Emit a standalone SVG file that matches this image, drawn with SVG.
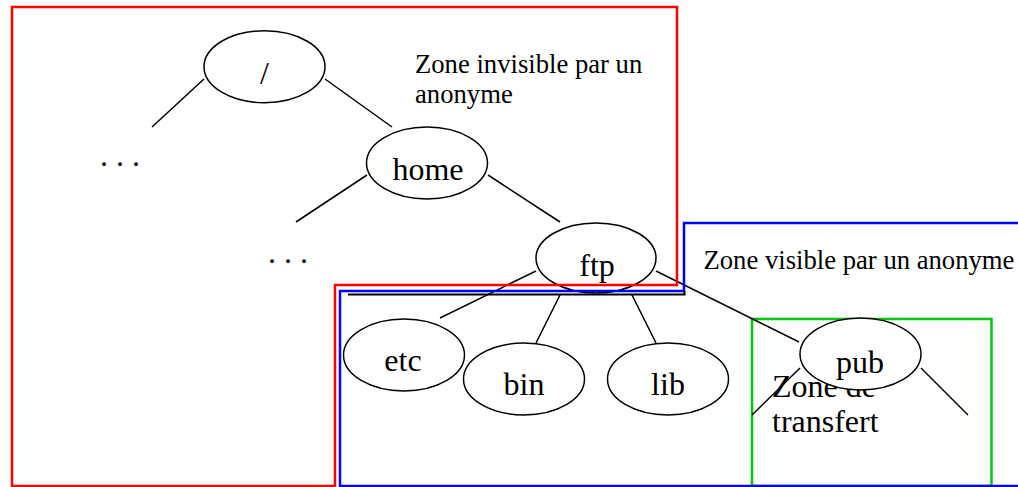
<svg xmlns="http://www.w3.org/2000/svg" width="1018" height="487" viewBox="0 0 1018 487">
<style>
.node ellipse{fill:#fff;stroke:#000;stroke-width:1.5}
.lbl{font-family:"Liberation Serif","Times New Roman",serif;font-size:32px;fill:#000;text-anchor:middle}
.zt{font-family:"Liberation Serif","Times New Roman",serif;font-size:26.67px;fill:#000}
.zt2{font-family:"Liberation Serif","Times New Roman",serif;font-size:32px;fill:#000}
#connectors line{stroke:#000;stroke-width:1.5}
.zone{fill:none;stroke-width:2.5}
</style>
<rect width="1018" height="487" fill="#fff"/>
<g id="zone-transfert">
<rect class="zone" x="752" y="319" width="239.5" height="167" stroke="#00c800"/>
<text class="zt2" x="772" y="397">Zone de</text>
<text class="zt2" x="772" y="432">transfert</text>
</g>
<g id="zone-labels">
<text class="zt" x="415" y="73">Zone invisible par un</text>
<text class="zt" x="415" y="103">anonyme</text>
<text class="zt" x="703.5" y="269">Zone visible par un anonyme</text>
</g>
<g id="connectors">
<line x1="204" y1="79" x2="152" y2="127"/>
<line x1="325" y1="79" x2="392" y2="127"/>
<line x1="367" y1="175" x2="296" y2="222"/>
<line x1="488" y1="175" x2="560" y2="222"/>
<line x1="536" y1="271" x2="440" y2="318"/>
<line x1="560" y1="295" x2="536" y2="343"/>
<line x1="632" y1="295" x2="656" y2="343"/>
<line x1="656" y1="271" x2="799" y2="342"/>
<line x1="800" y1="368" x2="752" y2="415"/>
<line x1="921" y1="368" x2="968" y2="415"/>
</g>
<g id="node-root" class="node"><ellipse cx="264.5" cy="66.7" rx="60.5" ry="36"/><text class="lbl" x="264.5" y="84">/</text></g>
<g id="node-dots1"><text class="lbl" x="120" y="166">. . .</text></g>
<g id="node-home" class="node"><ellipse cx="427" cy="163" rx="60.5" ry="36"/><text class="lbl" x="428" y="180">home</text></g>
<g id="node-dots2"><text class="lbl" x="288" y="263">. . .</text></g>
<g id="node-ftp" class="node"><ellipse cx="596" cy="258" rx="60" ry="35"/><text class="lbl" x="597" y="276">ftp</text></g>
<g id="node-etc" class="node"><ellipse cx="404" cy="355" rx="60.5" ry="36"/><text class="lbl" x="403" y="371">etc</text></g>
<g id="node-bin" class="node"><ellipse cx="524" cy="379" rx="60.5" ry="36"/><text class="lbl" x="524" y="395">bin</text></g>
<g id="node-lib" class="node"><ellipse cx="668" cy="379" rx="60.5" ry="36"/><text class="lbl" x="668" y="395">lib</text></g>
<g id="node-pub" class="node"><ellipse cx="860.5" cy="354" rx="60.5" ry="36"/><text class="lbl" x="860" y="373">pub</text></g>
<g id="zones">
<path class="zone" stroke="#ff0000" d="M12,7 H677 V285 H335 V486 H12 Z"/>
<path class="zone" stroke="#0000ff" d="M1020,223 H684 V291 H340 V486 H1020"/>
<path d="M348,294.5 H684.5 V291" fill="none" stroke="#000" stroke-width="2"/>
</g>
</svg>
